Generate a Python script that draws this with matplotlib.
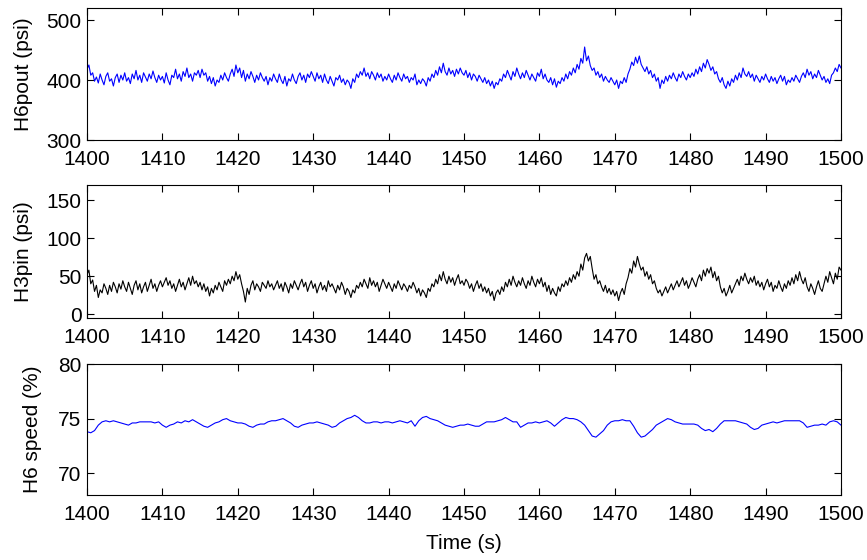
import numpy as np
import matplotlib
matplotlib.use("Agg")
import matplotlib.pyplot as plt

plt.rcParams['font.family'] = ['Liberation Sans', 'DejaVu Sans']

t_start, t_end = 1400, 1500
xticks = [1400, 1410, 1420, 1430, 1440, 1450, 1460, 1470, 1480, 1490, 1500]

h6pout = [
    418, 425, 408, 412, 398, 405, 395, 410, 400, 392, 406, 412, 398, 402, 390, 404, 410, 396, 408, 400,
    412, 398, 404, 394, 410, 402, 416, 400, 408, 396, 412, 405, 398, 410, 402, 415, 404, 396, 408, 400,
    406, 395, 412, 400, 392, 408, 404, 418, 402, 410, 398, 414, 406, 420, 404, 410, 398, 412, 408, 416,
    404, 418, 408, 412, 398, 406, 394, 404, 390, 400, 396, 408, 400, 412, 404, 398, 410, 418, 406, 425,
    412, 420, 404, 416, 398, 410, 402, 414, 406, 396, 408, 400, 412, 404, 398, 406, 392, 404, 398, 410,
    402, 396, 410, 400, 394, 406, 390, 402, 398, 410, 400, 394, 406, 412, 400, 408, 396, 410, 404, 414,
    406, 398, 412, 402, 408, 396, 410, 400, 394, 406, 398, 390, 404, 400, 408, 396, 402, 392, 400, 396,
    386, 402, 396, 410, 404, 414, 408, 420, 406, 412, 402, 414, 408, 400, 412, 404, 410, 398, 406, 400,
    410, 402, 396, 408, 400, 412, 404, 398, 410, 402, 406, 396, 404, 400, 410, 392, 400, 394, 402, 398,
    390, 404, 398, 410, 404, 416, 408, 422, 412, 428, 414, 408, 420, 410, 416, 406, 418, 410, 420, 412,
    408, 416, 404, 412, 400, 410, 406, 398, 408, 402, 396, 404, 394, 400, 390, 398, 386, 396, 392, 402,
    398, 410, 404, 416, 408, 400, 414, 406, 420, 410, 402, 412, 404, 416, 408, 400, 410, 404, 398, 412,
    406, 418, 402, 410, 400, 396, 404, 392, 402, 388, 398, 394, 404, 398, 410, 402, 414, 408, 420, 412,
    426, 418, 436, 428, 455, 432, 440, 424, 416, 420, 408, 414, 404, 410, 398, 406, 400, 396, 404, 398,
    392, 400, 386, 398, 394, 404, 396, 410, 418, 430, 424, 438, 428, 440, 426, 420, 414, 422, 410, 416,
    404, 410, 398, 404, 386, 400, 394, 406, 398, 408, 402, 412, 404, 398, 410, 404, 414, 406, 400, 410,
    404, 412, 406, 418, 410, 422, 414, 428, 420, 434, 426, 416, 422, 410, 414, 402, 396, 404, 392, 386,
    398, 390, 402, 396, 408, 400, 412, 404, 420, 410, 406, 414, 404, 410, 398, 408, 402, 396, 406, 400,
    410, 402, 396, 406, 398, 404, 394, 402, 408, 398, 406, 392, 400, 396, 404, 398, 408, 402, 396, 406,
    412, 404, 418, 408, 414, 402, 410, 404, 416, 408, 400, 406, 396, 402, 394, 408, 412, 420, 414, 426,
    420,
]

h3pin = [
    52, 58, 40, 45, 30, 38, 22, 32, 28, 40, 34, 26, 38, 30, 42, 36, 28, 40, 33, 44,
    36, 30, 42, 34, 26, 38, 44, 32, 40, 28, 36, 42, 30, 38, 46, 34, 40, 30, 38, 44,
    36, 42, 48, 38, 44, 34, 40, 30, 38, 46, 36, 42, 32, 40, 48, 38, 50, 40, 44, 36,
    42, 32, 40, 30, 36, 24, 34, 28, 38, 32, 42, 36, 30, 44, 38, 46, 40, 50, 44, 56,
    46, 52, 40, 30, 16, 34, 26, 38, 44, 32, 40, 36, 30, 42, 38, 34, 44, 36, 40, 32,
    38, 44, 34, 40, 30, 42, 36, 28, 40, 34, 44, 38, 32, 40, 46, 36, 42, 30, 38, 44,
    34, 40, 28, 36, 42, 32, 38, 30, 44, 36, 40, 34, 28, 38, 32, 42, 36, 26, 34, 30,
    22, 32, 28, 38, 34, 42, 36, 46, 40, 34, 48, 38, 44, 36, 42, 30, 38, 46, 40, 34,
    42, 36, 30, 40, 34, 44, 38, 32, 40, 36, 30, 38, 34, 42, 36, 28, 34, 24, 32, 28,
    22, 34, 30, 40, 36, 46, 40, 52, 44, 56, 46, 40, 50, 42, 48, 38, 46, 52, 40, 44,
    38, 46, 42, 34, 40, 30, 38, 44, 34, 40, 30, 36, 28, 34, 24, 30, 18, 28, 32, 26,
    36, 30, 42, 36, 46, 38, 50, 42, 36, 44, 38, 48, 40, 34, 44, 38, 50, 42, 36, 46,
    40, 48, 36, 42, 30, 38, 26, 34, 28, 24, 36, 30, 40, 36, 44, 38, 48, 42, 52, 46,
    56, 50, 66, 58, 74, 80, 70, 76, 60, 46, 52, 40, 44, 36, 30, 38, 28, 34, 26, 32,
    24, 30, 18, 28, 34, 26, 40, 48, 60, 54, 70, 62, 76, 66, 58, 62, 50, 56, 46, 52,
    40, 44, 34, 28, 32, 24, 30, 36, 28, 34, 40, 32, 38, 44, 36, 42, 48, 38, 44, 34,
    40, 48, 42, 36, 46, 52, 44, 58, 50, 60, 54, 62, 48, 56, 44, 50, 36, 28, 34, 24,
    30, 38, 28, 34, 40, 46, 38, 50, 44, 54, 46, 40, 48, 42, 50, 38, 44, 36, 42, 32,
    40, 46, 36, 42, 30, 38, 34, 44, 36, 30, 40, 34, 44, 38, 48, 40, 52, 44, 56, 46,
    40, 48, 36, 30, 40, 34, 26, 36, 44, 34, 30, 40, 50, 42, 56, 48, 40, 54, 46, 62,
    58,
]

h6speed = [
    73.8, 73.7, 73.9, 74.4, 74.7, 74.8, 74.7, 74.8, 74.7, 74.6,
    74.5, 74.4, 74.6, 74.6, 74.7, 74.7, 74.7, 74.7, 74.6, 74.7,
    74.4, 74.2, 74.4, 74.5, 74.7, 74.6, 74.8, 74.7, 74.9, 74.7,
    74.5, 74.3, 74.2, 74.4, 74.6, 74.7, 74.9, 75.0, 74.8, 74.7,
    74.6, 74.6, 74.5, 74.3, 74.2, 74.4, 74.5, 74.5, 74.7, 74.8,
    74.8, 74.9, 75.0, 74.8, 74.6, 74.3, 74.2, 74.4, 74.5, 74.6,
    74.6, 74.7, 74.6, 74.5, 74.4, 74.2, 74.3, 74.6, 74.8, 75.0,
    75.1, 75.3, 75.1, 74.8, 74.6, 74.6, 74.7, 74.7, 74.6, 74.7,
    74.7, 74.6, 74.7, 74.8, 74.7, 74.6, 74.8, 74.3, 74.8, 75.1,
    75.2, 75.0, 74.9, 74.8, 74.6, 74.4, 74.3, 74.2, 74.3, 74.4,
    74.4, 74.5, 74.4, 74.3, 74.3, 74.5, 74.7, 74.7, 74.7, 74.8,
    74.9, 75.1, 74.9, 74.7, 74.7, 74.2, 74.4, 74.6, 74.6, 74.7,
    74.6, 74.7, 74.8, 74.6, 74.3, 74.6, 74.9, 75.1, 75.0, 75.0,
    74.9, 74.7, 74.4, 73.9, 73.4, 73.3, 73.6, 73.9, 74.4, 74.7,
    74.8, 74.8, 74.9, 74.8, 74.8, 74.3, 73.7, 73.3, 73.4, 73.7,
    74.0, 74.4, 74.6, 74.8, 75.0, 74.9, 74.7, 74.6, 74.5, 74.5,
    74.5, 74.5, 74.4, 74.1, 73.9, 74.0, 73.8, 74.1, 74.5, 74.8,
    74.8, 74.8, 74.8, 74.7, 74.6, 74.5, 74.2, 74.0, 74.1, 74.4,
    74.5, 74.6, 74.7, 74.6, 74.7, 74.8, 74.8, 74.8, 74.8, 74.8,
    74.6, 74.2, 74.3, 74.4, 74.4, 74.5, 74.4, 74.7, 74.8, 74.7,
    74.4,
]

t_fast = np.linspace(t_start, t_end, len(h6pout))
t_mid = np.linspace(t_start, t_end, len(h3pin))
t_slow = np.linspace(t_start, t_end, len(h6speed))

W, H = 867, 560
fig = plt.figure(figsize=(W / 100, H / 100), dpi=100)

def ax_at(x0, y_top, x1, y_bot):
    return fig.add_axes([x0 / W, 1 - y_bot / H, (x1 - x0) / W, (y_bot - y_top) / H])

ax1 = ax_at(87, 8, 841, 140)
ax2 = ax_at(87, 185, 841, 318)
ax3 = ax_at(87, 364, 841, 495)

FS = 15

ax1.plot(t_fast, h6pout, color='#0000ff', lw=0.8)
ax1.set_ylim(300, 520)
ax1.set_yticks([300, 400, 500])
ax1.set_ylabel('H6pout (psi)', fontsize=FS)
ax1.yaxis.set_label_coords(-0.072, 0.5)

ax2.plot(t_mid, h3pin, color='black', lw=0.8)
ax2.set_ylim(-5, 170)
ax2.set_yticks([0, 50, 100, 150])
ax2.set_ylabel('H3pin (psi)', fontsize=FS)
ax2.yaxis.set_label_coords(-0.072, 0.5)

ax3.plot(t_slow, h6speed, color='#0000ff', lw=0.8)
ax3.set_ylim(68, 80)
ax3.set_yticks([70, 75, 80])
ax3.set_ylabel('H6 speed (%)', fontsize=FS)
ax3.yaxis.set_label_coords(-0.060, 0.5)
ax3.set_xlabel('Time (s)', fontsize=FS)
ax3.xaxis.set_label_coords(0.5, -0.30)

for ax in (ax1, ax2, ax3):
    ax.set_xlim(t_start, t_end)
    ax.set_xticks(xticks)
    ax.tick_params(direction='in', top=True, right=True, length=5, width=0.8,
                   labelsize=FS)
    ax.tick_params(axis='x', pad=7)
    ax.tick_params(axis='y', pad=4)
    for s in ax.spines.values():
        s.set_linewidth(0.8)

fig.savefig('out.png', dpi=100)
